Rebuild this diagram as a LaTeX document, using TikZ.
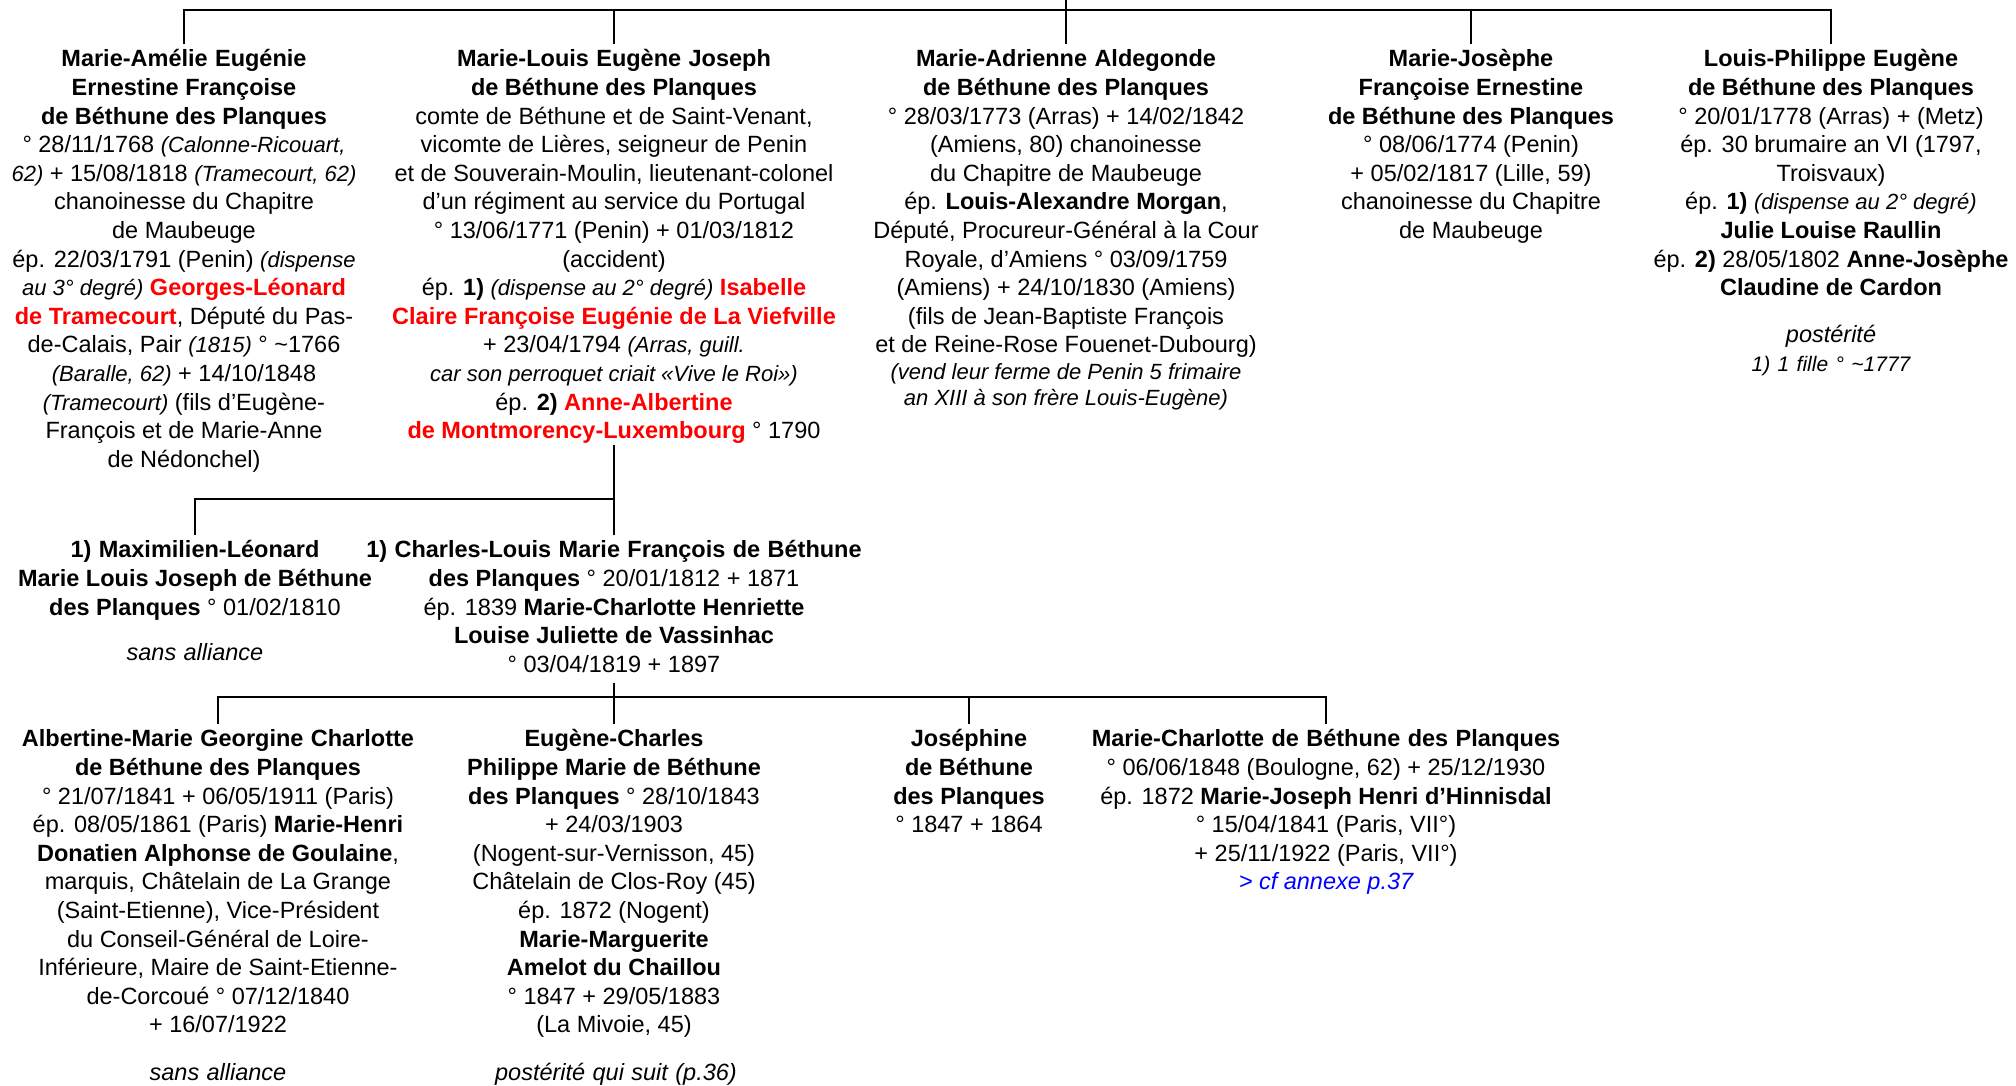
\documentclass[tikz,border=0pt]{standalone}
\usepackage{fontspec}
\setmainfont{Liberation Sans}
\usepackage{xcolor}
\newcommand\nt[1]{{\fontsize{22pt}{28.6pt}\selectfont\itshape #1}}
\newcommand\rd[1]{{\color{red}\bfseries #1}}
\newcommand\bd[1]{{\bfseries #1}}
\newcommand\widesp{\spaceskip=7.4pt plus 2pt minus 1pt\relax}
\newcommand\st{\widesp\rule{0pt}{21.5pt}}
\begin{document}
\begin{tikzpicture}[x=1pt,y=-1pt,line width=2.6pt,
  person/.style={anchor=north,inner sep=0pt,align=center,
    font=\fontsize{23.5pt}{28.6pt}\selectfont},
  note/.style={anchor=base,inner sep=0pt,
    font=\fontsize{23.5pt}{28.6pt}\selectfont\itshape,
    execute at begin node=\widesp}]
\useasboundingbox (0,0) rectangle (2016,1085);

% ---- generation 1
\node[person] (c1) at (184,44) {\st\bd{Marie-Amélie Eugénie}\\
\bd{Ernestine Françoise}\\
\bd{de Béthune des Planques}\\
° 28/11/1768 \nt{(Calonne-Ricouart,}\\
\nt{62)} + 15/08/1818 \nt{(Tramecourt, 62)}\\
chanoinesse du Chapitre\\
de Maubeuge\\
ép. 22/03/1791 (Penin) \nt{(dispense}\\
\nt{au 3° degré)} \rd{Georges-Léonard}\\
\rd{de Tramecourt}, Député du Pas-\\
de-Calais, Pair \nt{(1815)} ° \textasciitilde1766\\
\nt{(Baralle, 62)} + 14/10/1848\\
\nt{(Tramecourt)} (fils d’Eugène-\\
François et de Marie-Anne\\
de Nédonchel)};

\node[person] (c2) at (614,44) {\st\bd{Marie-Louis Eugène Joseph}\\
\bd{de Béthune des Planques}\\
comte de Béthune et de Saint-Venant,\\
vicomte de Lières, seigneur de Penin\\
et de Souverain-Moulin, lieutenant-colonel\\
d’un régiment au service du Portugal\\
° 13/06/1771 (Penin) + 01/03/1812\\
(accident)\\
ép. \bd{1)} \nt{(dispense au 2° degré)} \rd{Isabelle}\\
\rd{Claire Françoise Eugénie de La Viefville}\\
+ 23/04/1794 \nt{(Arras, guill.}\\
\nt{car son perroquet criait «Vive le Roi»)}\\
ép. \bd{2)} \rd{Anne-Albertine}\\
\rd{de Montmorency-Luxembourg} ° 1790};

\node[person] (c3) at (1066,44) {\st\bd{Marie-Adrienne Aldegonde}\\
\bd{de Béthune des Planques}\\
° 28/03/1773 (Arras) + 14/02/1842\\
(Amiens, 80) chanoinesse\\
du Chapitre de Maubeuge\\
ép. \bd{Louis-Alexandre Morgan},\\
Député, Procureur-Général à la Cour\\
Royale, d’Amiens ° 03/09/1759\\
(Amiens) + 24/10/1830 (Amiens)\\
(fils de Jean-Baptiste François\\
et de Reine-Rose Fouenet-Dubourg)\\[-2pt]
\nt{(vend leur ferme de Penin 5 frimaire}\\[-3pt]
\nt{an XIII à son frère Louis-Eugène)}};

\node[person] (c4) at (1471,44) {\st\bd{Marie-Josèphe}\\
\bd{Françoise Ernestine}\\
\bd{de Béthune des Planques}\\
° 08/06/1774 (Penin)\\
+ 05/02/1817 (Lille, 59)\\
chanoinesse du Chapitre\\
de Maubeuge};

\node[person] (c5) at (1831,44) {\st\bd{Louis-Philippe Eugène}\\
\bd{de Béthune des Planques}\\
° 20/01/1778 (Arras) + (Metz)\\
ép. 30 brumaire an VI (1797,\\
Troisvaux)\\
ép. \bd{1)} \nt{(dispense au 2° degré)}\\
\bd{Julie Louise Raullin}\\
ép. \bd{2)} 28/05/1802 \bd{Anne-Josèphe}\\
\bd{Claudine de Cardon}};
\node[note] (c5p) at (1831,342) {postérité};
\node[note,font=\fontsize{21pt}{28.6pt}\selectfont\itshape] (c5q) at (1831,371) {1) 1 fille ° \textasciitilde1777};

\coordinate (stub) at (1066,-2);
\coordinate (bar) at (1066,10);
\draw (stub) -- (bar);
\foreach \n in {c1,c2,c3,c4,c5} \draw (\n.north) |- (bar);

% ---- generation 2
\node[person] (r2a) at (195,535) {\st\bd{1) Maximilien-Léonard}\\
\bd{Marie Louis Joseph de Béthune}\\
\bd{des Planques} ° 01/02/1810};
\node[note] (r2an) at (195,660) {sans alliance};

\node[person] (r2b) at (614,535) {\st\bd{1) Charles-Louis Marie François de Béthune}\\
\bd{des Planques} ° 20/01/1812 + 1871\\
ép. 1839 \bd{Marie-Charlotte Henriette}\\
\bd{Louise Juliette de Vassinhac}\\
° 03/04/1819 + 1897};

\coordinate (j1) at (614,499);
\draw (c2.south) -- (j1);
\draw (r2a.north) |- (j1);
\draw (r2b.north) -- (j1);

% ---- generation 3
\node[person] (r3a) at (218,724) {\st\bd{Albertine-Marie Georgine Charlotte}\\
\bd{de Béthune des Planques}\\
° 21/07/1841 + 06/05/1911 (Paris)\\
ép. 08/05/1861 (Paris) \bd{Marie-Henri}\\
\bd{Donatien Alphonse de Goulaine},\\
marquis, Châtelain de La Grange\\
(Saint-Etienne), Vice-Président\\
du Conseil-Général de Loire-\\
Inférieure, Maire de Saint-Etienne-\\
de-Corcoué ° 07/12/1840\\
+ 16/07/1922};
\node[note] (r3an) at (218,1080) {sans alliance};

\node[person] (r3b) at (614,724) {\st\bd{Eugène-Charles}\\
\bd{Philippe Marie de Béthune}\\
\bd{des Planques} ° 28/10/1843\\
+ 24/03/1903\\
(Nogent-sur-Vernisson, 45)\\
Châtelain de Clos-Roy (45)\\
ép. 1872 (Nogent)\\
\bd{Marie-Marguerite}\\
\bd{Amelot du Chaillou}\\
° 1847 + 29/05/1883\\
(La Mivoie, 45)};
\node[note] (r3bn) at (616,1080) {postérité qui suit (p.36)};

\node[person] (r3c) at (969,724) {\st\bd{Joséphine}\\
\bd{de Béthune}\\
\bd{des Planques}\\
° 1847 + 1864};

\node[person] (r3d) at (1326,724) {\st\bd{Marie-Charlotte de Béthune des Planques}\\
° 06/06/1848 (Boulogne, 62) + 25/12/1930\\
ép. 1872 \bd{Marie-Joseph Henri d’Hinnisdal}\\
° 15/04/1841 (Paris, VII°)\\
+ 25/11/1922 (Paris, VII°)\\
{\color{blue}\itshape > cf annexe p.37}};

\coordinate (j2) at (614,697);
\draw ([yshift=-9pt]r2b.south) -- (j2);
\foreach \n in {r3a,r3b,r3c,r3d} \draw (\n.north) |- (j2);
\end{tikzpicture}
\end{document}
